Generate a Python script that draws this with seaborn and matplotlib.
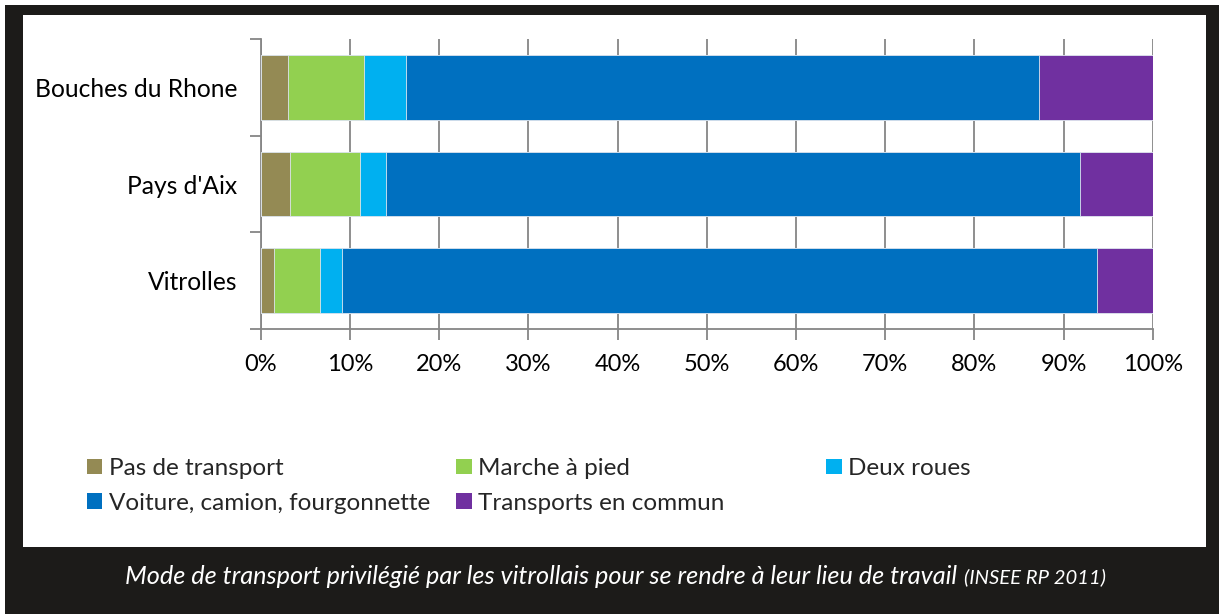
import matplotlib
matplotlib.use("Agg")
import matplotlib.pyplot as plt
import matplotlib.patches as mpatches
from matplotlib.ticker import FixedLocator, PercentFormatter
import numpy as np
import pandas as pd
import seaborn as sns

# ---- data ----
zones = ["Bouches du Rhone", "Pays d'Aix", "Vitrolles"]
modes = ["Pas de transport", "Marche à pied", "Deux roues",
         "Voiture, camion, fourgonnette", "Transports en commun"]
pas_de_transport = [3.1, 3.3, 1.5]
marche_a_pied = [8.5, 7.8, 5.1]
deux_roues = [4.7, 3.0, 2.5]
voiture = [70.9, 77.8, 84.7]
transports_commun = [12.8, 8.1, 6.2]
colors = ["#948A54", "#92D050", "#00B0F0", "#0070C0", "#7030A0"]
caption = "Mode de transport privilégié par les vitrollais pour se rendre à leur lieu de travail"
source = "(INSEE RP 2011)"

series = [pas_de_transport, marche_a_pied, deux_roues, voiture, transports_commun]

sns.set_theme(style="white")
plt.rcParams["font.family"] = ["Lato", "DejaVu Sans"]

W, H = 1219, 614
fig = plt.figure(figsize=(W / 100, H / 100), dpi=100)
fig.patch.set_facecolor("white")

# dark frame + white panel
fig.patches.append(mpatches.Rectangle((5 / W, 0), 1 - 5 / W, 1 - 5 / H,
                                      transform=fig.transFigure, facecolor="#1c1b19",
                                      edgecolor="none", zorder=-10))
fig.patches.append(mpatches.Rectangle((23 / W, (H - 547) / H), (1206 - 23) / W, (547 - 15) / H,
                                      transform=fig.transFigure, facecolor="white",
                                      edgecolor="none", zorder=-9))

x0, x1, y0, y1 = 260.7, 1152.7, 39, 329
ax = fig.add_axes([x0 / W, (H - y1) / H, (x1 - x0) / W, (y1 - y0) / H])
ax.set_facecolor("none")

# cumulative long table
rows = []
cum = np.zeros(len(zones))
for m, vals in zip(modes, series):
    cum = cum + np.array(vals)
    for z, c in zip(zones, cum):
        rows.append({"zone": z, "mode": m, "cum": c})
df = pd.DataFrame(rows)

for m, col in reversed(list(zip(modes, colors))):
    sub = df[df["mode"] == m]
    sns.barplot(data=sub, y="zone", x="cum", order=zones, color=col, width=0.67,
                orient="h", ax=ax, edgecolor="#dfe6ef", linewidth=0.6,
                saturation=1, zorder=3)

ax.set_xlim(0, 100)
ax.set_ylim(2.5, -0.5)
ax.set_xlabel("")
ax.set_ylabel("")
ax.xaxis.set_major_locator(FixedLocator(np.arange(0, 101, 10)))
ax.xaxis.set_major_formatter(PercentFormatter(decimals=0))
ax.grid(axis="x", color="#868686", linewidth=1.3, zorder=0)
ax.grid(axis="y", visible=False)
for s in ["top", "right"]:
    ax.spines[s].set_visible(False)
for s in ["left", "bottom"]:
    ax.spines[s].set_color("#868686")
    ax.spines[s].set_linewidth(1.3)
ax.tick_params(axis="x", which="major", bottom=True, length=8, width=1.3, color="#868686",
               direction="out", labelsize=17, pad=10, labelcolor="black")
ax.yaxis.set_minor_locator(FixedLocator([-0.5, 0.5, 1.5, 2.5]))
ax.tick_params(axis="y", which="major", left=False, labelsize=17.7, pad=11, labelcolor="black")
ax.tick_params(axis="y", which="minor", left=True, length=8, width=1.3, color="#868686",
               direction="out")

# legend in three columns
handles = [mpatches.Patch(facecolor=c, edgecolor="none", label=m) for m, c in zip(modes, colors)]
cols = [[0, 3], [1, 4], [2]]
col_x = [86.7, 456, 826]
for idx, cx in zip(cols, col_x):
    fig.legend(handles=[handles[i] for i in idx], loc="upper left",
               bbox_to_anchor=(cx / W, 1 - 458 / H), frameon=False, fontsize=17.5,
               handlelength=0.64, handleheight=0.58, handletextpad=0.27,
               labelspacing=0.56, borderpad=0, borderaxespad=0)

fig.text(957 / W, 1 - 576 / H, caption, ha="right", va="center", color="white",
         fontsize=18.2, style="italic")
fig.text(964 / W, 1 - 577 / H, source, ha="left", va="center", color="white",
         fontsize=14.6, style="italic")

fig.savefig("out.png", dpi=100)
